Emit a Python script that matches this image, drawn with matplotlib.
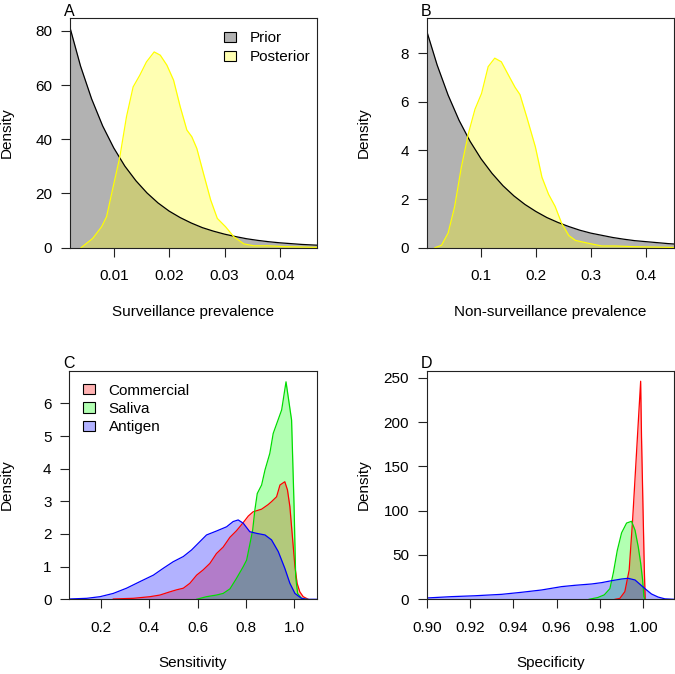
import matplotlib
matplotlib.use('Agg')
import matplotlib.pyplot as plt
from matplotlib.patches import Patch

plt.rcParams['font.family'] = ['Liberation Sans', 'DejaVu Sans']
plt.rcParams['font.size'] = 11

# --- panel A: surveillance prevalence ---
prior_a_x = [0.002, 0.004, 0.006, 0.008, 0.010, 0.012, 0.014, 0.016, 0.018, 0.020, 0.022, 0.024,
             0.026, 0.028, 0.030, 0.032, 0.034, 0.036, 0.038, 0.040, 0.042, 0.044, 0.046, 0.048]
prior_a_y = [81.9, 67.0, 54.9, 44.9, 36.8, 30.1, 24.7, 20.2, 16.5, 13.5, 11.1, 9.1,
             7.4, 6.1, 5.0, 4.1, 3.3, 2.7, 2.2, 1.8, 1.5, 1.2, 1.0, 0.8]
post_a_x = [0.0041, 0.0062, 0.0078, 0.0087, 0.0099, 0.0111, 0.0123, 0.0135, 0.0147, 0.0159, 0.0173,
            0.0184, 0.0196, 0.0208, 0.0220, 0.0232, 0.0241, 0.0250, 0.0262, 0.0275, 0.0287, 0.0302,
            0.0317, 0.0335, 0.0353, 0.0378, 0.0408, 0.0469]
post_a_y = [0, 3.4, 7.7, 11.4, 22.5, 33.5, 48.3, 59.3, 63.6, 68.5, 72.2,
            71, 67.3, 61.8, 52, 43.4, 40.9, 36.6, 27.4, 17.6, 10.8, 7.7,
            4, 1.4, 0.7, 0.7, 0.4, 0.1]

# --- panel B: non-surveillance prevalence ---
prior_b_x = [0.001, 0.02, 0.04, 0.06, 0.08, 0.10, 0.12, 0.14, 0.16, 0.18, 0.20, 0.22,
             0.24, 0.26, 0.28, 0.30, 0.32, 0.34, 0.36, 0.38, 0.40, 0.42, 0.44, 0.46]
prior_b_y = [8.92, 7.52, 6.28, 5.24, 4.38, 3.66, 3.06, 2.55, 2.13, 1.78, 1.49, 1.24,
             1.04, 0.87, 0.72, 0.60, 0.51, 0.42, 0.35, 0.29, 0.25, 0.21, 0.17, 0.14]
post_b_x = [0.016, 0.028, 0.040, 0.052, 0.064, 0.077, 0.089, 0.101, 0.113, 0.125, 0.137, 0.150,
            0.162, 0.171, 0.183, 0.199, 0.211, 0.223, 0.235, 0.247, 0.260, 0.272, 0.296, 0.320,
            0.345, 0.381, 0.452]
post_b_y = [0, 0.1, 0.6, 1.7, 3.3, 4.7, 5.7, 6.35, 7.45, 7.8, 7.65, 7.1,
            6.6, 6.3, 5.4, 4.15, 2.9, 2.2, 1.7, 1.0, 0.5, 0.3, 0.18, 0.07,
            0.07, 0.04, 0.01]

# --- panel C: sensitivity ---
comm_c_x = [0.251, 0.334, 0.403, 0.444, 0.486, 0.513, 0.541, 0.568, 0.596, 0.623, 0.651, 0.678,
            0.706, 0.734, 0.761, 0.789, 0.810, 0.830, 0.865, 0.892, 0.906, 0.927, 0.941, 0.961,
            0.972, 0.982, 0.989, 0.996, 1.003, 1.012, 1.023, 1.037, 1.058]
comm_c_y = [0.01, 0.03, 0.08, 0.13, 0.23, 0.29, 0.34, 0.49, 0.74, 0.9, 1.1, 1.4,
            1.6, 1.9, 2.1, 2.35, 2.55, 2.68, 2.76, 2.9, 2.99, 3.14, 3.5, 3.6,
            3.35, 2.84, 2.22, 1.61, 1.0, 0.49, 0.23, 0.08, 0]
sal_c_x = [0.596, 0.637, 0.678, 0.706, 0.734, 0.761, 0.789, 0.803, 0.817, 0.828, 0.837, 0.847,
           0.865, 0.879, 0.899, 0.913, 0.948, 0.966, 0.989, 0.999, 1.006, 1.014, 1.030, 1.051]
sal_c_y = [0, 0.08, 0.13, 0.18, 0.32, 0.64, 1.0, 1.2, 1.71, 2.12, 2.73, 3.24,
           3.5, 3.96, 4.47, 5.08, 5.8, 6.66, 5.49, 2.94, 0.69, 0.18, 0.03, 0]
ant_c_x = [0.069, 0.141, 0.196, 0.251, 0.306, 0.361, 0.417, 0.458, 0.499, 0.541, 0.575, 0.610,
           0.637, 0.678, 0.720, 0.747, 0.768, 0.789, 0.816, 0.844, 0.879, 0.906, 0.934, 0.961,
           0.982, 1.003, 1.030, 1.051, 1.093]
ant_c_y = [0.01, 0.03, 0.08, 0.18, 0.34, 0.54, 0.74, 0.95, 1.15, 1.31, 1.51, 1.77,
           1.97, 2.09, 2.22, 2.38, 2.43, 2.33, 2.07, 2.02, 1.97, 1.82, 1.46, 0.95,
           0.49, 0.18, 0.03, 0, 0]

# --- panel D: specificity ---
comm_d_x = [0.9870, 0.9892, 0.9915, 0.9935, 0.9951, 0.9970, 0.9988, 0.9992, 1.0000, 1.0005, 1.0009]
comm_d_y = [0, 1, 8.6, 33, 90, 170, 246, 183, 90, 33, 0]
sal_d_x = [0.975, 0.979, 0.982, 0.9846, 0.9862, 0.9880, 0.9900, 0.9923, 0.9946, 0.9962, 0.9977,
           0.9988, 0.9997, 1.0003, 1.0008]
sal_d_y = [0, 2, 5, 12, 30, 55, 75, 86, 88, 78, 59, 41, 22, 3, 0]
ant_d_x = [0.900, 0.9115, 0.9223, 0.9346, 0.9438, 0.953, 0.9623, 0.9685, 0.9762, 0.9808, 0.9854,
           0.990, 0.9930, 0.9962, 1.0008, 1.0038, 1.0069, 1.010, 1.0142]
ant_d_y = [1.5, 3, 4, 5.6, 7.9, 10.5, 14.3, 15.8, 17.3, 18.8, 21,
           22.9, 23.7, 21.8, 12, 6, 2.5, 0.5, 0]

# ticks
a_xticks = [0.01, 0.02, 0.03, 0.04]
a_yticks = [0, 20, 40, 60, 80]
b_xticks = [0.1, 0.2, 0.3, 0.4]
b_yticks = [0, 2, 4, 6, 8]
c_xticks = [0.2, 0.4, 0.6, 0.8, 1.0]
c_yticks = [0, 1, 2, 3, 4, 5, 6]
d_xticks = [0.90, 0.92, 0.94, 0.96, 0.98, 1.00]
d_xlabels = ['0.90', '0.92', '0.94', '0.96', '0.98', '1.00']
d_yticks = [0, 50, 100, 150, 200, 250]

W, H = 675, 674
fig = plt.figure(figsize=(W / 100, H / 100), dpi=100)


def make_ax(left, top, right, bottom):
    ax = fig.add_axes([left / W, 1 - bottom / H, (right - left) / W, (bottom - top) / H])
    for s in ax.spines.values():
        s.set_linewidth(0.8)
        s.set_color('#222222')
    ax.tick_params(length=6.3, width=0.8, color='#222222', labelsize=11)
    ax.tick_params(axis='x', pad=9.2)
    ax.tick_params(axis='y', pad=6.5)
    return ax


def dens(ax, x, y, fill, line):
    ax.fill_between(x, y, 0, color=fill, alpha=0.3, linewidth=0)
    ax.plot(x, y, color=line, lw=0.9)


def labels(ax, letter, xlab):
    w = ax.get_position().width * W
    h = ax.get_position().height * H
    ax.text(-63 / w, 0.5, 'Density', rotation=90, ha='center', va='center', transform=ax.transAxes)
    ax.text(0.5, -64 / h, xlab, ha='center', va='center', transform=ax.transAxes)
    ax.text(-6 / w, 1 + 2.5 / h, letter, ha='left', va='baseline', transform=ax.transAxes, fontsize=11.5)


# A
ax = make_ax(70, 18.3, 317, 247.7)
dens(ax, prior_a_x, prior_a_y, 'black', 'black')
dens(ax, post_a_x, post_a_y, '#FFFF00', '#FFFF00')
ax.set_xlim(0.0021, 0.0467)
ax.set_ylim(0, 84.6)
ax.set_xticks(a_xticks)
ax.set_yticks(a_yticks)
labels(ax, 'A', 'Surveillance prevalence')
handles = [Patch(facecolor=(0, 0, 0, 0.3), edgecolor='black', lw=0.8, label='Prior'),
           Patch(facecolor=(1, 1, 0, 0.3), edgecolor='black', lw=0.8, label='Posterior')]
ax.legend(handles=handles, loc='upper left', bbox_to_anchor=(0.623, 0.943), frameon=False,
          borderpad=0, borderaxespad=0, handlelength=0.78, handleheight=0.65,
          handletextpad=0.92, labelspacing=0.31, fontsize=11)

# B
ax = make_ax(426.7, 18.3, 674, 247.7)
dens(ax, prior_b_x, prior_b_y, 'black', 'black')
dens(ax, post_b_x, post_b_y, '#FFFF00', '#FFFF00')
ax.set_xlim(0.001, 0.4516)
ax.set_ylim(0, 9.44)
ax.set_xticks(b_xticks)
ax.set_yticks(b_yticks)
labels(ax, 'B', 'Non-surveillance prevalence')

# C
ax = make_ax(69.3, 370.7, 316.7, 599.3)
dens(ax, comm_c_x, comm_c_y, '#FF0000', '#FF0000')
dens(ax, sal_c_x, sal_c_y, '#00FF00', '#00DD00')
dens(ax, ant_c_x, ant_c_y, '#0000FF', '#0000FF')
ax.set_xlim(0.069, 1.093)
ax.set_ylim(0, 7.0)
ax.set_xticks(c_xticks)
ax.set_yticks(c_yticks)
labels(ax, 'C', 'Sensitivity')
handles = [Patch(facecolor=(1, 0, 0, 0.3), edgecolor='black', lw=0.8, label='Commercial'),
           Patch(facecolor=(0, 1, 0, 0.3), edgecolor='black', lw=0.8, label='Saliva'),
           Patch(facecolor=(0, 0, 1, 0.3), edgecolor='black', lw=0.8, label='Antigen')]
ax.legend(handles=handles, loc='upper left', bbox_to_anchor=(0.054, 0.943), frameon=False,
          borderpad=0, borderaxespad=0, handlelength=0.78, handleheight=0.65,
          handletextpad=0.92, labelspacing=0.27, fontsize=11)

# D
ax = make_ax(426.7, 370.7, 674, 599.3)
dens(ax, comm_d_x, comm_d_y, '#FF0000', '#FF0000')
dens(ax, sal_d_x, sal_d_y, '#00FF00', '#00DD00')
dens(ax, ant_d_x, ant_d_y, '#0000FF', '#0000FF')
ax.set_xlim(0.90, 1.0142)
ax.set_ylim(0, 257.9)
ax.set_xticks(d_xticks)
ax.set_xticklabels(d_xlabels)
ax.set_yticks(d_yticks)
labels(ax, 'D', 'Specificity')

fig.savefig('out.png', dpi=100)
